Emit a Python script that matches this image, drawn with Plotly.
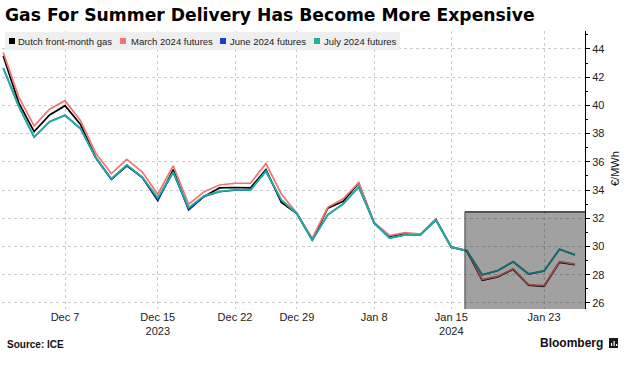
import plotly.graph_objects as go

# ---------------- data ----------------
dates = [
    "2023-12-01", "2023-12-04", "2023-12-05", "2023-12-06", "2023-12-07", "2023-12-08",
    "2023-12-11", "2023-12-12", "2023-12-13", "2023-12-14", "2023-12-15",
    "2023-12-18", "2023-12-19", "2023-12-20", "2023-12-21", "2023-12-22",
    "2023-12-26", "2023-12-27", "2023-12-28", "2023-12-29",
    "2024-01-02", "2024-01-03", "2024-01-04", "2024-01-05",
    "2024-01-08", "2024-01-09", "2024-01-10", "2024-01-11", "2024-01-12",
    "2024-01-15", "2024-01-16", "2024-01-17", "2024-01-18", "2024-01-19",
    "2024-01-22", "2024-01-23", "2024-01-24", "2024-01-25",
]
front_month = [43.50, 40.20, 38.14, 39.32, 39.98, 38.65, 36.28, 34.77, 35.72, 34.90, 33.25,
               35.45, 32.60, 33.55, 34.15, 34.18, 34.15, 35.45, 33.12, 32.33,
               30.45, 32.72, 33.20, 34.50, 31.68, 30.70, 30.92, 30.84, 31.90,
               29.95, 29.68, 27.60, 27.85, 28.38, 27.25, 27.18, 28.88, 28.72]
march_2024 = [43.75, 40.60, 38.55, 39.73, 40.33, 38.92, 36.58, 35.17, 36.18, 35.28, 33.70,
              35.72, 32.98, 33.88, 34.36, 34.48, 34.48, 35.88, 33.72, 32.36,
              30.58, 32.78, 33.38, 34.52, 31.70, 30.78, 30.98, 30.88, 31.95,
              29.97, 29.72, 27.65, 27.88, 28.42, 27.30, 27.22, 28.92, 28.75]
june_2024 = [42.65, 39.95, 37.75, 38.84, 39.30, 38.35, 36.25, 34.77, 35.76, 34.88, 33.33,
             35.25, 32.65, 33.55, 33.88, 34.00, 34.00, 35.33, 33.28, 32.33,
             30.45, 32.25, 33.02, 34.22, 31.66, 30.60, 30.82, 30.82, 31.88,
             29.95, 29.70, 27.99, 28.28, 28.92, 28.05, 28.26, 29.80, 29.40]
july_2024 = [42.65, 39.95, 37.75, 38.84, 39.30, 38.35, 36.28, 34.80, 35.78, 34.92, 33.45,
             35.28, 32.75, 33.60, 33.90, 34.02, 34.00, 35.35, 33.30, 32.33,
             30.45, 32.25, 33.02, 34.24, 31.66, 30.60, 30.82, 30.82, 31.88,
             29.95, 29.70, 28.00, 28.30, 28.93, 28.06, 28.27, 29.81, 29.42]

series_names = ["Dutch front-month gas", "March 2024 futures", "June 2024 futures", "July 2024 futures"]
series_colors = ["#000000", "#f47272", "#1741c6", "#1db39b"]

tick_dates = ["2023-12-07", "2023-12-15", "2023-12-22", "2023-12-29", "2024-01-08", "2024-01-15", "2024-01-23"]
tick_labels = ["Dec 7", "Dec 15<br>2023", "Dec 22", "Dec 29", "Jan 8", "Jan 15<br>2024", "Jan 23"]
y_ticks = [26, 28, 30, 32, 34, 36, 38, 40, 42, 44]

# ---------------- layout geometry (pixels) ----------------
W, H = 628, 365
L, R, T, B = 2, 585, 31, 309  # plot area edges in px


def px(xp):
    return (xp - L) / (R - L)


def py(yp):
    return (B - yp) / (B - T)


X_RANGE = [-0.08, 37.65]
Y_RANGE = [25.57, 45.27]

fig = go.Figure()
for vals, name, col in zip([front_month, march_2024, june_2024, july_2024], series_names, series_colors):
    fig.add_trace(go.Scatter(x=dates, y=vals, mode="lines", name=name,
                             line=dict(color=col, width=1.7), showlegend=False))

shapes = []
annotations = []

# highlight box
box_x0 = 29.88
box_top = 32.45
shapes.append(dict(type="rect", xref="x", yref="y", x0=box_x0, x1=X_RANGE[1], y0=Y_RANGE[0], y1=box_top,
                   fillcolor="rgba(0,0,0,0.37)", line=dict(width=0), layer="above"))
shapes.append(dict(type="line", xref="x", yref="y", x0=box_x0, x1=X_RANGE[1], y0=box_top, y1=box_top,
                   line=dict(color="#111111", width=1.2), layer="above"))
shapes.append(dict(type="line", xref="x", yref="y", x0=box_x0, x1=box_x0, y0=Y_RANGE[0], y1=box_top,
                   line=dict(color="#444444", width=1), layer="above"))

# legend (custom, square swatches)
shapes.append(dict(type="rect", xref="paper", yref="paper", x0=px(5), x1=px(400), y0=py(50), y1=py(32),
                   fillcolor="#efefef", line=dict(width=0), layer="above"))
legend_sq_x = [9, 120, 220, 314]
legend_txt_x = [16, 129, 228, 322]
for sx, tx, name, col in zip(legend_sq_x, legend_txt_x, series_names, series_colors):
    shapes.append(dict(type="rect", xref="paper", yref="paper", x0=px(sx), x1=px(sx + 6),
                       y0=py(44), y1=py(38), fillcolor=col, line=dict(width=0), layer="above"))
    annotations.append(dict(text=name, xref="paper", yref="paper", x=px(tx), y=py(41),
                            xanchor="left", yanchor="middle", showarrow=False,
                            font=dict(family="Liberation Sans", size=9.5, color="#222222")))

# axis title (rotated)
annotations.append(dict(text="€/MWh", xref="paper", yref="paper", x=px(615), y=py(169),
                        xanchor="center", yanchor="middle", textangle=-90, showarrow=False,
                        font=dict(family="Liberation Sans", size=11, color="#111111")))
# source and logo
annotations.append(dict(text="<b>Source: ICE</b>", xref="paper", yref="paper", x=px(5), y=py(344),
                        xanchor="left", yanchor="middle", showarrow=False,
                        font=dict(family="Liberation Sans", size=10, color="#111111")))
annotations.append(dict(text="<b>Bloomberg</b>", xref="paper", yref="paper", x=px(605), y=py(343),
                        xanchor="right", yanchor="middle", showarrow=False,
                        font=dict(family="Liberation Sans", size=12, color="#111111")))
shapes.append(dict(type="rect", xref="paper", yref="paper", x0=px(609), x1=px(618), y0=py(348), y1=py(338),
                   fillcolor="#1a1a1a", line=dict(width=0)))
for bx, btop in zip([611, 613.5, 616], [343, 341, 344]):
    shapes.append(dict(type="rect", xref="paper", yref="paper", x0=px(bx), x1=px(bx + 1.2),
                       y0=py(346), y1=py(btop), fillcolor="#ffffff", line=dict(width=0)))

fig.update_layout(
    width=W, height=H,
    margin=dict(l=L, r=W - R, t=T, b=H - B),
    paper_bgcolor="white", plot_bgcolor="white",
    title=dict(text="<b>Gas For Summer Delivery Has Become More Expensive</b>",
               x=5 / W, xref="container", xanchor="left",
               y=1 - 15 / H, yref="container", yanchor="middle",
               font=dict(family="DejaVu Sans", size=17.2, color="#000000")),
    shapes=shapes, annotations=annotations,
    showlegend=False,
)
fig.update_xaxes(type="category", range=X_RANGE, tickvals=tick_dates, ticktext=tick_labels,
                 showgrid=True, gridcolor="#cccccc", griddash="dot", gridwidth=1,
                 showline=False, zeroline=False, ticks="",
                 tickfont=dict(family="Liberation Sans", size=11, color="#222222"))
fig.update_yaxes(side="right", range=Y_RANGE, tickvals=y_ticks,
                 showgrid=True, gridcolor="#cccccc", griddash="dot", gridwidth=1,
                 showline=True, linecolor="#000000", linewidth=1, zeroline=False,
                 ticks="outside", ticklen=4, tickcolor="#000000",
                 minor=dict(dtick=1, tick0=0, ticks="outside", ticklen=2, tickcolor="#000000", showgrid=False),
                 tickfont=dict(family="Liberation Sans", size=11, color="#222222"))

fig.write_html("out.html", config={"displayModeBar": False},
               post_script="document.body.style.margin='0';")
